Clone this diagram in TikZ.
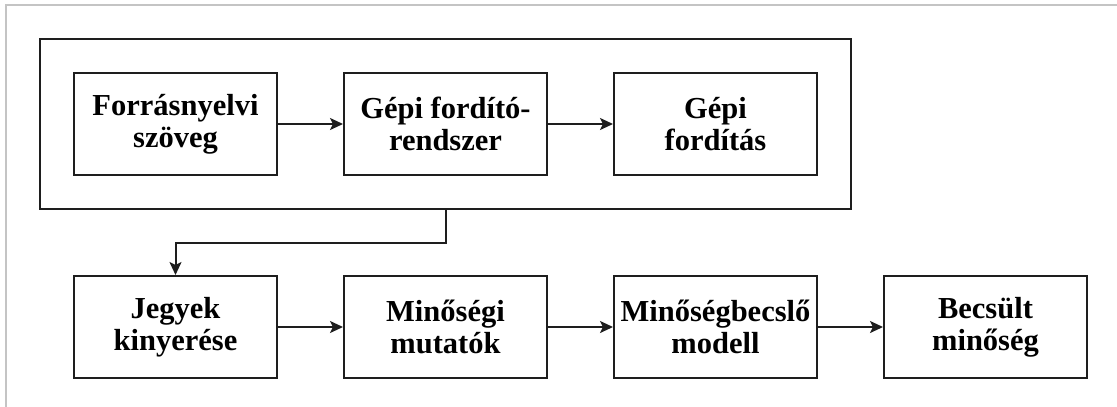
\documentclass[tikz,border=0pt]{standalone}
\usepackage{fontspec}
\setmainfont{Liberation Serif}[BoldFont={Liberation Serif Bold}]
\usetikzlibrary{arrows.meta}
\definecolor{framegray}{HTML}{C4C4C4}
\definecolor{linedark}{HTML}{1E1E1E}
\tikzset{
  stepbox/.style={draw=linedark, line width=2pt, minimum width=203pt, minimum height=102pt,
    align=center, font=\bfseries\fontsize{30.5pt}{32pt}\selectfont, inner sep=0pt},
  flow/.style={draw=linedark, line width=2pt, -{Stealth[length=13pt,width=12pt,inset=3pt]}}
}
\begin{document}
\begin{tikzpicture}[x=1pt, y=-1pt]

    \useasboundingbox (0,0) rectangle (1117,407);
    \draw [framegray, line width=2pt] (6,407) -- (6,5) -- (1117,5);

    \node[draw=linedark, line width=2pt, minimum width=811pt, minimum height=170pt, inner sep=0pt] (mt) at (445.5,124) {};

    \node[stepbox] (src) at (175.5,124) {Forrásnyelvi\\szöveg};
    \node[stepbox] (sys) at (445.5,124) {Gépi fordító-\\rendszer};
    \node[stepbox] (trans) at (715.5,124) {Gépi\\fordítás};

    \node[stepbox] (feat) at (175.5,327) {Jegyek\\kinyerése};
    \node[stepbox] (ind) at (445.5,327) {Minőségi\\mutatók};
    \node[stepbox] (qe) at (715.5,327) {Minőségbecslő\\modell};
    \node[stepbox] (est) at (985.5,327) {Becsült\\minőség};

    \draw[flow] (src) -- (sys);
    \draw[flow] (sys) -- (trans);
    \draw[flow] (mt.south) -- ++(0,33) -| (feat.north);
    \draw[flow] (feat) -- (ind);
    \draw[flow] (ind) -- (qe);
    \draw[flow] (qe) -- (est);
    \end{tikzpicture}
\end{document}
